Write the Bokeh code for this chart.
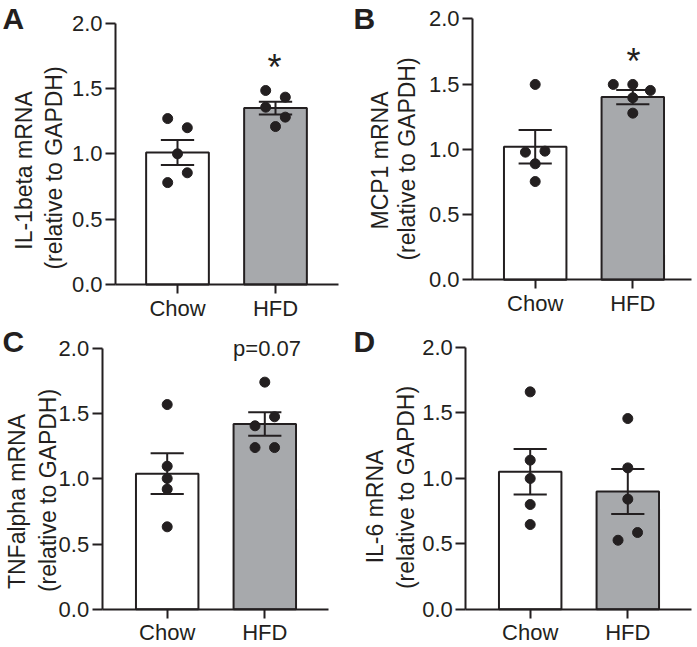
import math
from bokeh.plotting import figure
from bokeh.layouts import column, row
from bokeh.models import FixedTicker, PrintfTickFormatter, Label
from bokeh.embed import file_html
from bokeh.resources import INLINE

# ---------------- data ----------------
groups = ["Chow", "HFD"]
yticks = [0.0, 0.5, 1.0, 1.5, 2.0]

a_title = ["IL-1beta mRNA", "(relative to GAPDH)"]
a_chow = [1.27, 1.20, 1.00, 0.855, 0.78]
a_hfd = [1.485, 1.434, 1.357, 1.281, 1.209]
a_mean = [1.01, 1.35]
a_sem = [0.096, 0.049]
a_note = "*"

b_title = ["MCP1 mRNA", "(relative to GAPDH)"]
b_chow = [1.497, 0.986, 0.978, 0.889, 0.753]
b_hfd = [1.497, 1.497, 1.451, 1.395, 1.277]
b_mean = [1.02, 1.40]
b_sem = [0.128, 0.055]
b_note = "*"

c_title = ["TNFalpha mRNA", "(relative to GAPDH)"]
c_chow = [1.570, 1.097, 1.003, 0.921, 0.632]
c_hfd = [1.742, 1.476, 1.407, 1.240, 1.240]
c_mean = [1.04, 1.42]
c_sem = [0.156, 0.090]
c_note = "p=0.07"

d_title = ["IL-6 mRNA", "(relative to GAPDH)"]
d_chow = [1.661, 1.139, 0.999, 0.800, 0.647]
d_hfd = [1.457, 1.080, 0.841, 0.586, 0.527]
d_mean = [1.05, 0.90]
d_sem = [0.174, 0.172]
d_note = ""

# horizontal scatter offsets of the dots (in dot spacings)
a_jit = ([-1, 1, 0, 1, -1], [-1, 1, -1, 1, 0])
b_jit = ([0, 1, -1, 0, 0], [-2, 0, 1.8, 0, 0])
c_jit = ([0, 0, 0, 0, 0], [0, 1, -1, -1, 1])
d_jit = ([0, 0, 0, 0, 0], [0, 0, 0, 1, -1])

# ---------------- styles / layout ----------------
FONT = "Liberation Sans"
DARK = "#231f20"
GRAY = "#a7a9ac"
JIT = 0.1
CAP = 0.17
BAR_W = 0.64

# canvas W,H; axis pixel positions L (y axis), R (x axis end), T (y=2), B (y=0); c1/c2 category pixels
# t1/t2/letter/note: visual centres (pixels) of the texts
lay_a = dict(W=348, H=323, L=115, R=338, T=22.7, B=284, c1=177, c2=275,
             t1=(23, 170), t2=(53, 167.5), letter=(2, 18), note=(274, 67), note_size="36px")
lay_b = dict(W=348, H=323, L=124, R=343, T=18.3, B=279.3, c1=186.7, c2=284.3,
             t1=(31, 160), t2=(58, 158.5), letter=(5, 17.5), note=(285, 61), note_size="36px")
lay_c = dict(W=348, H=323, L=101.7, R=328, T=25, B=285.7, c1=166.7, c2=264.3,
             t1=(16, 178), t2=(47, 167), letter=(2, 17.5), note=(266.5, 25), note_size="22px")
lay_d = dict(W=348, H=323, L=117.3, R=343, T=24, B=285.7, c1=181.7, c2=279.3,
             t1=(26, 183), t2=(57, 164), letter=(5, 18), note=(279, 25), note_size="22px")


def make_panel(letter, title, chow, hfd, jit, mean, sem, note, lay):
    W, H, L, R, T, B = lay["W"], lay["H"], lay["L"], lay["R"], lay["T"], lay["B"]
    c1, c2 = lay["c1"], lay["c2"]
    ppu = float(c2 - c1)
    ppuy = (B - T) / 2.0

    def px(xp):
        return 1 + (xp - c1) / ppu

    def py(yp):
        return (B - yp) / ppuy

    p = figure(width=W, height=H, x_range=(px(0), px(W)), y_range=(py(H), py(0)),
               output_backend="svg", toolbar_location=None,
               min_border=0, min_border_left=0, min_border_right=0,
               min_border_top=0, min_border_bottom=0)
    p.title.visible = False
    p.outline_line_color = None
    p.grid.visible = False
    p.background_fill_color = "white"
    p.border_fill_color = "white"

    xpos = [1, 2]
    p.vbar(x=xpos, top=mean, bottom=0, width=BAR_W,
           fill_color=["white", GRAY], line_color=DARK, line_width=2)
    lo = [m - s for m, s in zip(mean, sem)]
    hi = [m + s for m, s in zip(mean, sem)]
    p.segment(x0=xpos, y0=lo, x1=xpos, y1=hi, line_color=DARK, line_width=2)
    p.segment(x0=[x - CAP for x in xpos], y0=hi, x1=[x + CAP for x in xpos], y1=hi,
              line_color=DARK, line_width=2)
    p.segment(x0=[x - CAP for x in xpos], y0=lo, x1=[x + CAP for x in xpos], y1=lo,
              line_color=DARK, line_width=2)

    for gi, vals in enumerate([chow, hfd]):
        xx = [xpos[gi] + j * JIT for j in jit[gi]]
        p.scatter(xx, vals, size=10, marker="circle", fill_color=DARK, line_color=DARK)

    # y axis, drawn at the left end of the x axis
    ya = p.yaxis[0]
    ya.fixed_location = px(L)
    ya.bounds = (0, 2)
    ya.ticker = FixedTicker(ticks=yticks)
    ya.formatter = PrintfTickFormatter(format="%.1f")
    ya.major_tick_out = 10
    ya.major_tick_in = 0
    ya.minor_tick_out = 0
    ya.minor_tick_in = 0
    ya.major_label_standoff = 3
    ya.axis_line_width = 2
    ya.major_tick_line_width = 2
    ya.axis_line_color = DARK
    ya.major_tick_line_color = DARK
    ya.major_label_text_font = FONT
    ya.major_label_text_font_size = "22px"
    ya.major_label_text_color = DARK

    # x axis at y = 0
    xa = p.xaxis[0]
    xa.fixed_location = 0
    xa.bounds = (px(L), px(R))
    xa.ticker = FixedTicker(ticks=xpos)
    xa.major_label_overrides = {1: groups[0], 2: groups[1]}
    xa.major_tick_out = 9
    xa.major_tick_in = 0
    xa.minor_tick_out = 0
    xa.minor_tick_in = 0
    xa.major_label_standoff = 2
    xa.axis_line_width = 2
    xa.major_tick_line_width = 2
    xa.axis_line_color = DARK
    xa.major_tick_line_color = DARK
    xa.major_label_text_font = FONT
    xa.major_label_text_font_size = "22px"
    xa.major_label_text_color = DARK

    # axis titles (two lines, rotated)
    for (tx, ty), t in zip([lay["t1"], lay["t2"]], title):
        p.add_layout(Label(x=px(tx), y=py(ty), text=t, angle=math.pi / 2, text_align="center",
                           text_baseline="middle", text_font=FONT, text_font_size="23px",
                           text_color=DARK))
    # panel letter
    lx, ly = lay["letter"]
    p.add_layout(Label(x=px(lx), y=py(ly), text=letter, text_align="left",
                       text_baseline="middle", text_font=FONT, text_font_size="30px",
                       text_font_style="bold", text_color=DARK))
    # significance note
    if note:
        nx, ny = lay["note"]
        p.add_layout(Label(x=px(nx), y=py(ny), text=note, text_align="center",
                           text_baseline="middle", text_font=FONT,
                           text_font_size=lay["note_size"], text_color=DARK))
    return p


pa = make_panel("A", a_title, a_chow, a_hfd, a_jit, a_mean, a_sem, a_note, lay_a)
pb = make_panel("B", b_title, b_chow, b_hfd, b_jit, b_mean, b_sem, b_note, lay_b)
pc = make_panel("C", c_title, c_chow, c_hfd, c_jit, c_mean, c_sem, c_note, lay_c)
pd = make_panel("D", d_title, d_chow, d_hfd, d_jit, d_mean, d_sem, d_note, lay_d)

layout = column(row(pa, pb), row(pc, pd))
open("out.html", "w").write(file_html(layout, INLINE))
